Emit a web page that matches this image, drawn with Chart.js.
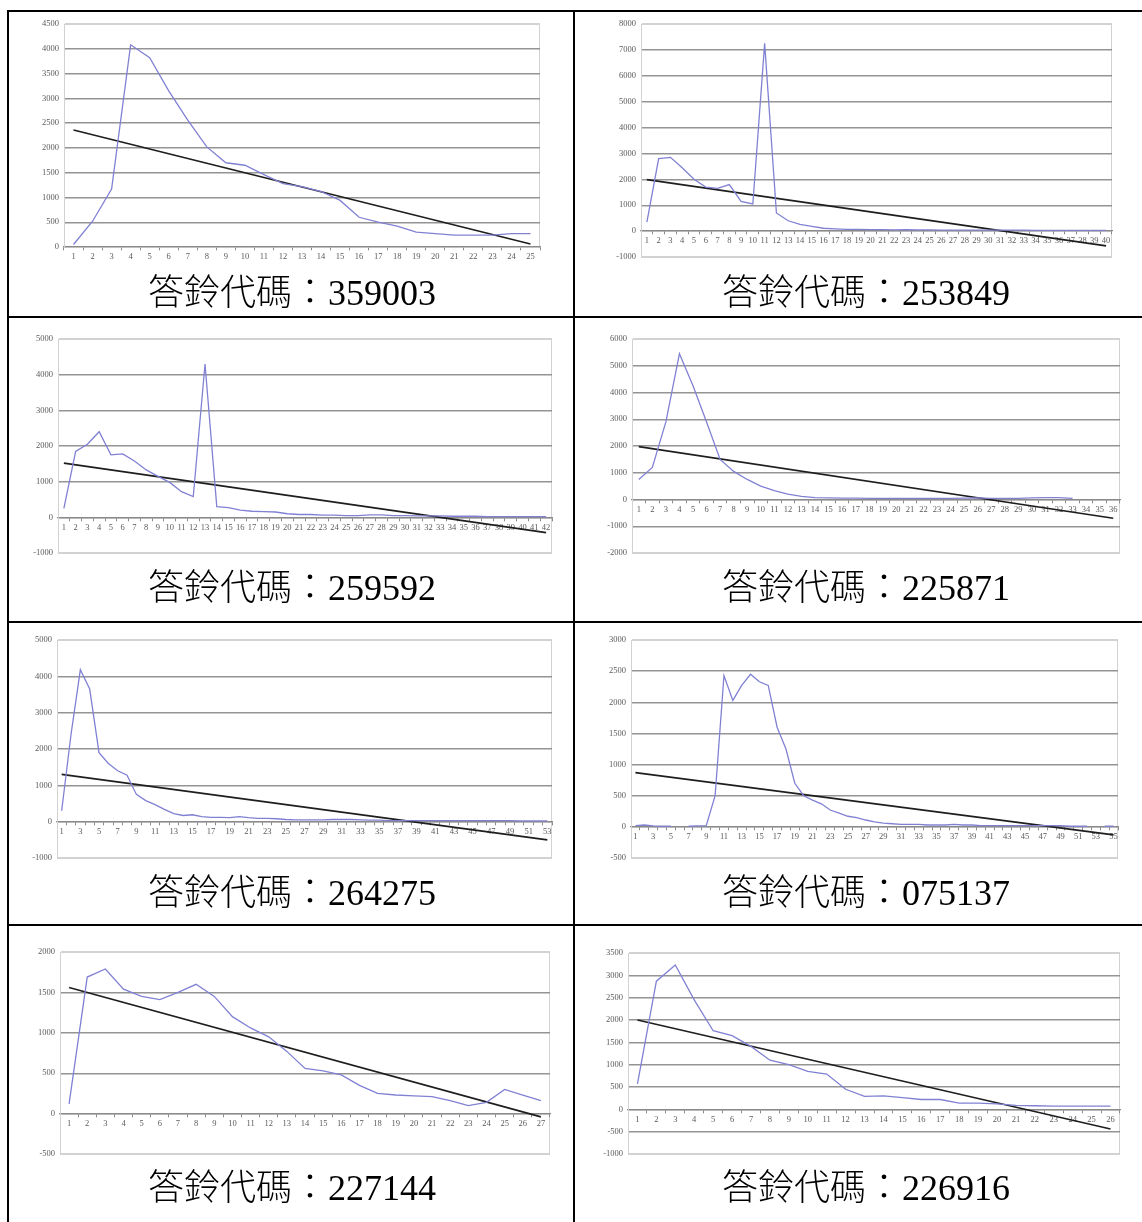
<!DOCTYPE html>
<html>
<head>
<meta charset="utf-8">
<script src="https://cdn.jsdelivr.net/npm/chart.js@4.4.0/dist/chart.umd.min.js"></script>
<style>
body{margin:0;background:#fff;width:1142px;height:1222px;overflow:hidden;position:relative;}
.hline{position:absolute;left:8px;width:1140px;height:2px;background:#000;}
.vline{position:absolute;top:10px;width:2px;height:1220px;background:#000;}
canvas{position:absolute;}
.cap{position:absolute;text-align:center;font-family:'Liberation Serif','Noto Sans CJK TC',serif;font-size:36px;font-weight:300;line-height:40px;color:#000;white-space:nowrap;}
</style>
</head>
<body>
<div class="hline" style="top:10px"></div>
<div class="hline" style="top:316px"></div>
<div class="hline" style="top:621px"></div>
<div class="hline" style="top:924px"></div>
<div class="vline" style="left:7px"></div>
<div class="vline" style="left:573px"></div>
<div id="holder"></div>
<script>
// ring-back tone codes, one per cell
var codes=['359003','253849','259592','225871','264275','075137','227144','226916'];

var series359003=[50,520,1170,4080,3820,3150,2560,2020,1700,1650,1460,1280,1220,1120,940,600,500,420,300,270,240,240,240,270,270];
var trend359003=[2360,60];

var series253849=[350,2800,2850,2450,2000,1700,1650,1800,1150,1050,7250,700,400,260,180,110,90,70,70,60,
	60,50,60,50,50,40,40,40,40,40,40,40,40,30,30,30,30,30,30,30];
var trend253849=[1990,-570];

var series259592=[250,1850,2050,2400,1750,1780,1580,1330,1150,980,720,580,4300,300,270,200,170,160,150,100,
	80,80,60,60,50,50,70,70,50,50,40,40,40,30,30,30,20,20,20,20,20,20];
var trend259592=[1520,-430];

var series225871=[750,1200,2900,5450,4250,2900,1500,1050,750,500,330,200,120,70,60,50,50,40,40,40,
	40,40,40,40,50,60,40,40,40,60,70,70,40,null,null,null];
var trend225871=[1980,-700];

var series264275=[300,2400,4180,3650,1900,1600,1400,1280,750,580,470,340,220,170,190,140,120,120,110,140,
	110,90,90,80,60,50,50,50,50,60,60,60,50,40,40,30,30,30,30,30,
	30,30,30,30,30,30,30,30,30,20,20,20,20];
var trend264275=[1300,-500];

var series075137=[20,30,15,10,10,null,10,15,20,500,2430,2030,2270,2450,2330,2270,1600,1250,700,500,
	430,370,270,220,170,150,110,80,60,50,40,40,40,30,30,30,40,30,30,20,
	20,20,20,20,20,20,20,20,20,10,10,10,null,10,10];
var trend075137=[870,-130];

var series227144=[120,1690,1790,1540,1450,1410,1500,1600,1450,1200,1060,950,770,560,530,480,350,250,230,220,
	210,160,100,140,300,230,160];
var trend227144=[1560,-40];

var series226916=[570,2870,3230,2450,1760,1650,1410,1100,1000,850,790,450,290,300,260,220,220,140,140,120,
	90,80,70,70,70,70];
var trend226916=[2000,-440];

var seriesList=[series359003,series253849,series259592,series225871,series264275,series075137,series227144,series226916];
var trendList=[trend359003,trend253849,trend259592,trend225871,trend264275,trend075137,trend227144,trend226916];

// value axis ticks
var yMin=[0,-1000,-1000,-2000,-1000,-500,-500,-1000];
var yMax=[4500,8000,5000,6000,5000,3000,2000,3500];
var yStep=[500,1000,1000,1000,1000,500,500,500];
var labelEvery=[1,1,1,1,2,2,1,1];

// page layout: cell edges and plot rectangles [left,top,right,bottom]
var colEdges=[9,575,1142];
var rowEdges=[12,318,623,926];
var captionY=[293,588,893,1188];
var plotBoxes=[[64,24,540,247],[641,24,1112,257],[58,339,552,553],[632,339,1120,553],
	[57,640,552,858],[631,640,1118,858],[60,952,550,1154],[628,953,1120,1154]];
var yAxisWidth=40;

//light grey frame round the plot area, like the spreadsheet one
var plotFrame={
	id:'plotFrame',
	beforeDraw:function(chart){
		var a=chart.chartArea;
		var c=chart.ctx;
		c.save();
		c.strokeStyle='#d2d2d2';
		c.lineWidth=1;
		c.strokeRect(Math.round(a.left)+0.5,Math.round(a.top)+0.5,Math.round(a.width)-1,Math.round(a.height));
		c.restore();
	}
};

function makeLabels(n){
	var labels=[];
	for(var i=0;i<n;i++){
		labels.push(String(i+1));
	}
	return labels;
}

function drawCell(i){
	var col=i%2;
	var row=Math.floor(i/2);
	var cl=colEdges[col]+1;
	var ct=rowEdges[row]+1;
	var cw=colEdges[col+1]-cl-2;
	var ch=262;
	var box=plotBoxes[i];

	var canvas=document.createElement('canvas');
	canvas.width=cw;
	canvas.height=ch;
	canvas.style.left=cl+'px';
	canvas.style.top=ct+'px';
	document.getElementById('holder').appendChild(canvas);

	var cap=document.createElement('div');
	cap.className='cap';
	cap.style.left=colEdges[col]+'px';
	cap.style.width=(col==0?566:582)+'px';
	cap.style.top=(captionY[row]-20)+'px';
	cap.textContent='答鈴代碼：'+codes[i];
	document.getElementById('holder').appendChild(cap);

	var values=seriesList[i];
	var trend=trendList[i];
	var labels=makeLabels(values.length);
	var every=labelEvery[i];
	var lo=yMin[i],hi=yMax[i];

	var config={
		type:'line',
		data:{
			labels:labels,
			datasets:[
				{data:values,borderColor:'#8181d4',borderWidth:1.3,pointRadius:0,tension:0,spanGaps:false},
				{data:[{x:labels[0],y:trend[0]},{x:labels[labels.length-1],y:trend[1]}],borderColor:'#1e1e1e',borderWidth:1.7,pointRadius:0}
			]
		},
		options:{
			responsive:false,
			animation:false,
			layout:{padding:{left:box[0]-cl-yAxisWidth,top:box[1]-ct,right:cl+cw-box[2],bottom:ct+ch-box[3]}},
			plugins:{legend:{display:false},tooltip:{enabled:false}},
			scales:{
				x:{
					type:'category',
					offset:true,
					position:{y:0},
					grid:{drawOnChartArea:false,offset:true,tickLength:3,color:'#8a8a8a',lineWidth:1},
					border:{color:'#8a8a8a',width:1.3},
					ticks:{autoSkip:false,maxRotation:0,minRotation:0,padding:2,color:'#5a5a5a',
						font:{family:'Liberation Serif',size:8.5},
						callback:function(v,idx){return idx%every==0?this.getLabelForValue(v):'';}},
					afterFit:function(s){s.height=0;}
				},
				y:{
					min:lo,
					max:hi,
					grid:{lineWidth:1.4,drawTicks:false,
						color:function(c){return (c.tick && (c.tick.value==lo||c.tick.value==hi))?'#d2d2d2':'#949494';}},
					border:{color:'#d2d2d2'},
					ticks:{stepSize:yStep[i],padding:5,color:'#5a5a5a',font:{family:'Liberation Serif',size:8.5},
						callback:function(v){return String(v);}},
					afterFit:function(s){s.width=yAxisWidth;}
				}
			}
		},
		plugins:[plotFrame]
	};
	new Chart(canvas.getContext('2d'),config);
}

for(var i=0;i<codes.length;i++){
	drawCell(i);
}
</script>
</body>
</html>
